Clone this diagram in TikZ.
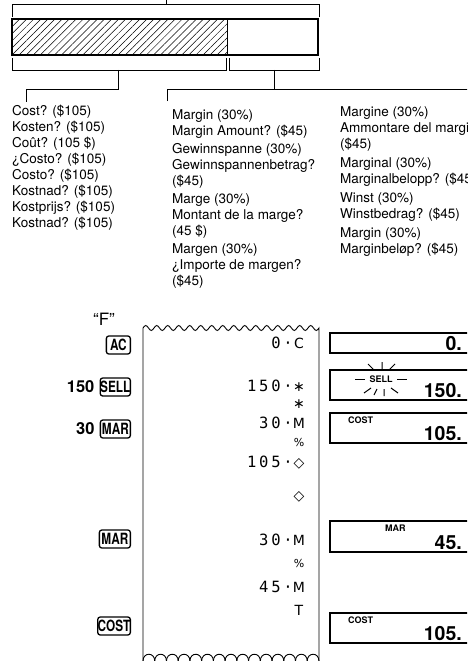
\documentclass[tikz,border=0pt]{standalone}
\usepackage{fontspec}
\setmainfont{TeX Gyre Heros}
\newfontfamily\keyfont[FakeStretch=0.76]{TeX Gyre Heros}
\newfontfamily\rcptfont[LetterSpace=18]{DejaVu Sans Mono}
\newfontfamily\symfont{DejaVu Sans}
\usetikzlibrary{patterns.meta, positioning}

\tikzset{
  bracket/.style={line width=0.9pt},
  langtext/.style={anchor=base west, align=left, inner sep=0pt, font=\fontsize{13.5}{16}\selectfont},
  keybox/.style={draw, line width=1.3pt, rounded corners=2.5pt, inner sep=0pt, minimum height=18pt,
    font=\keyfont\bfseries\fontsize{15.5}{15.5}\selectfont, anchor=east},
  keynum/.style={inner sep=0pt, font=\bfseries\fontsize{16.5}{16.5}\selectfont},
  rcpt/.style={anchor=base east, inner sep=0pt, font=\rcptfont\fontsize{15.5}{15.5}\selectfont},
  rsym/.style={anchor=base, inner sep=0pt, font=\symfont\fontsize{14}{14}\selectfont},
  dispbox/.style={line width=1.6pt},
  dispnum/.style={anchor=base east, inner sep=0pt, font=\bfseries\fontsize{19.5}{19.5}\selectfont},
  dispind/.style={anchor=north west, inner sep=0pt, font=\bfseries\fontsize{9}{9}\selectfont},
}

\begin{document}
\begin{tikzpicture}[x=1pt, y=-1pt]
    \useasboundingbox (0,0) rectangle (467,661);
    \clip (0,0) rectangle (467,661);

    % price bar with brackets
    \draw[bracket] (166,0) -- (166,4);
    \draw[bracket] (12,17) -- (12,4) -- (319,4) -- (319,17);
    \fill[pattern={Lines[angle=45, distance=5pt, line width=0.5pt]}] (12,19) rectangle (227,55);
    \draw[line width=0.6pt] (227,19) -- (227,55);
    \draw[line width=2.2pt] (12,19) rectangle (318,55);
    \draw[bracket] (12,58) -- (12,70) -- (226,70) -- (226,58);
    \draw[bracket] (118,70) -- (118,89) -- (26,89) -- (26,102);
    \draw[bracket] (229,58) -- (229,70) -- (319,70) -- (319,58);
    \draw[bracket] (274,70) -- (274,89);
    \draw[bracket] (167,101) -- (167,89) -- (470,89);

    % text nodes sit on the baseline of their last line
    \node[langtext] (cost) at (12,227) {Cost? (\$105)\\Kosten? (\$105)\\Coût? (105 \$)\\¿Costo? (\$105)\\Costo? (\$105)\\Kostnad? (\$105)\\Kostprijs? (\$105)\\Kostnad? (\$105)};
    \node[langtext] (margin) at (172,285) {Margin (30\%)\\Margin Amount? (\$45)\\[2pt]
      Gewinnspanne (30\%)\\Gewinnspannenbetrag?\\(\$45)\\[2pt]
      Marge (30\%)\\Montant de la marge?\\(45 \$)\\[2pt]
      Margen (30\%)\\¿Importe de margen?\\(\$45)};
    \node[langtext] (margine) at (340,253) {Margine (30\%)\\Ammontare del margine?\\(\$45)\\[3pt]
      Marginal (30\%)\\Marginalbelopp? (\$45)\\[3pt]
      Winst (30\%)\\Winstbedrag? (\$45)\\[3pt]
      Margin (30\%)\\Marginbeløp? (\$45)};

    % key operations
    \node[font=\fontsize{17}{17}\selectfont] (fmode) at (104,319) {“F”};
    \node[keybox, minimum width=24pt] (kAC) at (131,345) {AC};
    \node[keybox, minimum width=30pt] (kSell) at (131,387) {SELL};
    \node[keynum, left=5pt of kSell] (nSell) {150};
    \node[keybox, minimum width=30pt] (kMar) at (131,429) {MAR};
    \node[keynum, left=5pt of kMar] (nMar) {30};
    \node[keybox, minimum width=31pt] (kMarB) at (131,539) {MAR};
    \node[keybox, minimum width=32pt] (kCost) at (131,626) {COST};

    % paper roll
    \draw[line width=0.9pt] (143,661) -- (143,328)
      \foreach \k in {1,...,16} {sin ++(2.75,-2.5) cos ++(2.75,2.5) sin ++(2.75,2.5) cos ++(2.75,-2.5)}
      -- (319,661);
    \foreach \k in {0,...,14}
      \draw[line width=0.9pt] ({143+\k*11.73},661) .. controls ({143+\k*11.73},652) and ({143+(\k+1)*11.73},652) .. ({143+(\k+1)*11.73},661);

    \foreach \y/\num/\sym [count=\i] in {348/0·/C, 391/150·/∗, 408/{}/∗, 428/30·/M,
        446/{}/{\fontsize{11}{11}\selectfont\%}, 467/105·/◇, 500/{}/◇, 545/30·/M,
        567/{}/{\fontsize{11}{11}\selectfont\%}, 592/45·/M, 615/{}/T} {
      \node[rcpt] (num\i) at (293,\y) {\num};
      \node[rsym] (sym\i) at (299,\y) {\sym};
    }

    % displays
    \draw[dispbox] (470,333) -| (330,353) -- (470,353);
    \node[dispnum] (d1) at (462,350) {0.};
    \draw[dispbox] (470,370) -| (330,400) -- (470,400);
    \node[dispnum] (d2) at (462,397) {150.};
    \node[inner sep=0pt, font=\bfseries\fontsize{9}{9}\selectfont] (sell) at (381,379) {SELL};
    \draw[line width=1pt] (355,379) -- (365,379) (397,379) -- (407,379);
    \draw[line width=1pt] (374,370) -- (368,364) (382,369) -- (382,362) (389,370) -- (395,364);
    \draw[line width=1pt] (371,388) -- (364,393) (377,389) -- (374,395) (384,389) -- (384,396) (391,388) -- (398,393);
    \draw[dispbox] (470,413) -| (330,443) -- (470,443);
    \node[dispind] (i3) at (348,417) {COST};
    \node[dispnum] (d3) at (462,440) {105.};
    \draw[dispbox] (470,521) -| (330,552) -- (470,552);
    \node[dispind] (i4) at (385,525) {MAR};
    \node[dispnum] (d4) at (462,549) {45.};
    \draw[dispbox] (470,613) -| (330,643) -- (470,643);
    \node[dispind] (i5) at (348,617) {COST};
    \node[dispnum] (d5) at (462,640) {105.};
\end{tikzpicture}
\end{document}
